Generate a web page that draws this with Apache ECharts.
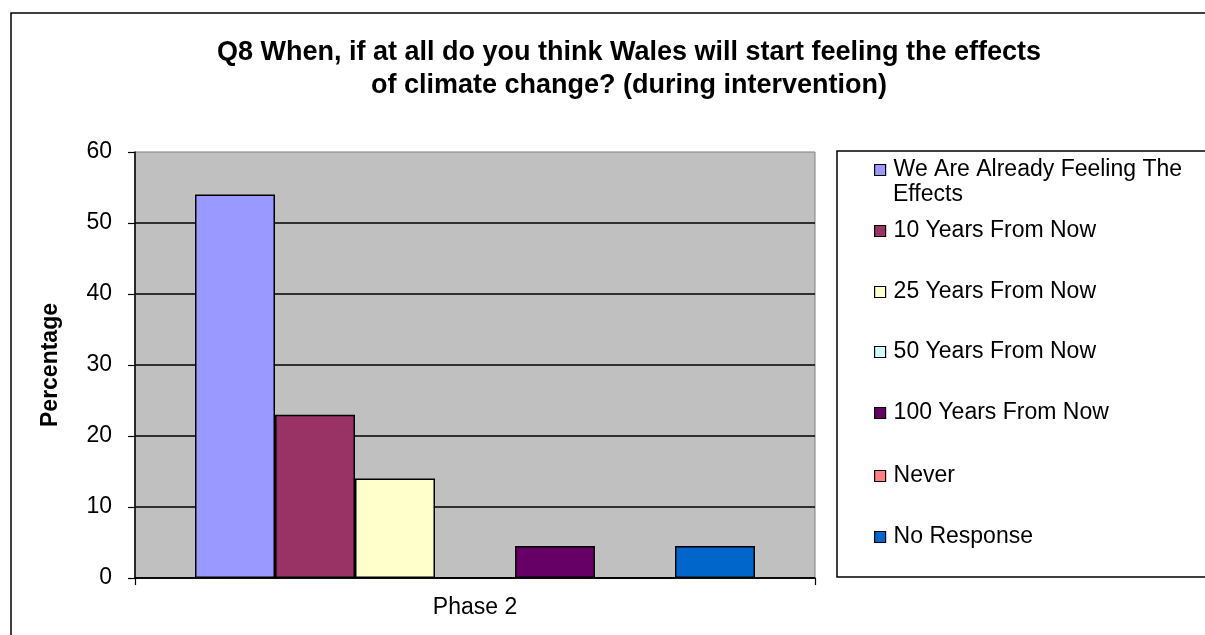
<!DOCTYPE html>
<html>
<head>
<meta charset="utf-8">
<script src="https://cdn.jsdelivr.net/npm/echarts@6/dist/echarts.min.js"></script>
<style>
  html, body { margin: 0; padding: 0; background: #fff; }
  #chart { width: 1205px; height: 635px; }
</style>
</head>
<body>
<div id="chart"></div>
<script>
// ---- data ----
const titleLines = ['Q8 When, if at all do you think Wales will start feeling the effects', 'of climate change? (during intervention)'];
const categories = ['Phase 2'];
const seriesNames = ['We Are Already Feeling The Effects', '10 Years From Now', '25 Years From Now', '50 Years From Now', '100 Years From Now', 'Never', 'No Response'];
const seriesValues = [54, 23, 14, 0, 4.5, 0, 4.5];
const seriesColors = ['#9999FF', '#993366', '#FFFFCC', '#CCFFFF', '#660066', '#FF8080', '#0066CC'];
const yTicks = { min: 0, max: 60, interval: 10 };
const yName = 'Percentage';

const FONT = '"Liberation Sans", Arial, sans-serif';
const chart = echarts.init(document.getElementById('chart'));

const legendCenters = [170, 231, 292, 352, 413, 476, 537];
const legends = seriesNames.map((n, i) => ({
  show: true,
  data: [n],
  orient: 'vertical',
  left: 874,
  top: legendCenters[i] - 12,
  padding: 0,
  itemWidth: 11,
  itemHeight: 11,
  icon: 'rect',
  selectedMode: false,
  formatter: i === 0 ? 'We Are Already Feeling The' : '{name}',
  itemStyle: { borderColor: '#000', borderWidth: 1.2 },
  textStyle: { fontFamily: FONT, fontSize: 23, color: '#000', padding: [0, 0, 0, 3], lineHeight: 24 }
}));

const series = seriesNames.map((n, i) => ({
  name: n,
  type: 'bar',
  data: [seriesValues[i]],
  barWidth: 80,
  barGap: '0%',
  itemStyle: { color: seriesColors[i], borderColor: '#000', borderWidth: 1.5 },
  emphasis: { disabled: true },
  animation: false
}));

chart.setOption({
  animation: false,
  backgroundColor: '#fff',
  title: {
    text: titleLines.join('\n'),
    left: 624,
    top: 31,
    textAlign: 'center',
    textStyle: { fontFamily: FONT, fontSize: 27, fontWeight: 'bold', color: '#000', lineHeight: 33 }
  },
  legend: legends,
  graphic: [
    { type: 'rect', shape: { x: 11, y: 13, width: 1400, height: 800 }, style: { fill: 'none', stroke: '#000', lineWidth: 1.5 }, z: -1, silent: true },
    { type: 'rect', shape: { x: 837, y: 151, width: 600, height: 426 }, style: { fill: 'none', stroke: '#000', lineWidth: 1.5 }, z: -1, silent: true },
    { type: 'text', left: 893, top: 183, style: { text: 'Effects', font: '23px ' + FONT, fill: '#000' }, silent: true }
  ],
  grid: {
    left: 135, top: 152, right: 390, bottom: 57,
    show: true, backgroundColor: '#C0C0C0', borderColor: '#808080', borderWidth: 1
  },
  xAxis: {
    type: 'category',
    data: categories,
    axisLine: { lineStyle: { color: '#000', width: 1.5 } },
    axisTick: { show: true, length: 7, lineStyle: { color: '#000', width: 1.2 } },
    axisLabel: { fontFamily: FONT, fontSize: 23, color: '#000', margin: 18 }
  },
  yAxis: {
    type: 'value',
    min: yTicks.min, max: yTicks.max, interval: yTicks.interval,
    name: yName,
    nameLocation: 'middle',
    nameGap: 73,
    nameTextStyle: { fontFamily: FONT, fontSize: 23, fontWeight: 'bold', color: '#000' },
    axisLine: { show: true, lineStyle: { color: '#000', width: 1.5 } },
    axisTick: { show: true, length: 7, lineStyle: { color: '#000', width: 1.2 } },
    axisLabel: { fontFamily: FONT, fontSize: 23, color: '#000', margin: 23 },
    splitLine: { show: true, showMaxLine: false, lineStyle: { color: '#000', width: 1.5 } }
  },
  series: series
});
</script>
</body>
</html>
